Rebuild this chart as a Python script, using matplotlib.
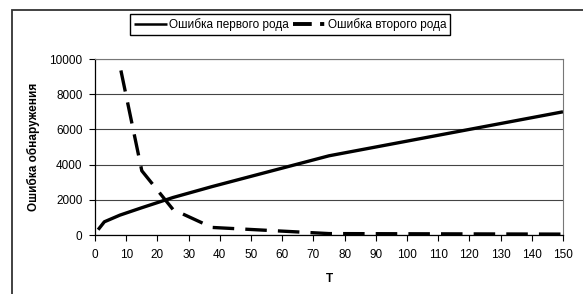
import matplotlib.pyplot as plt
from matplotlib.patches import Rectangle
from matplotlib.lines import Line2D

plt.rcParams['font.family'] = ['Liberation Sans', 'DejaVu Sans']
plt.rcParams['font.size'] = 8.5
plt.rcParams['lines.scale_dashes'] = False

# data
t_first = [1, 3, 8, 15, 25, 37.5, 75, 150]
err_first = [300, 750, 1130, 1550, 2130, 2750, 4500, 7000]
t_second = [8.3, 15, 25, 37.5, 75, 150]
err_second = [9350, 3650, 1450, 430, 80, 50]
xticks = list(range(0, 151, 10))
yticks = [0, 2000, 4000, 6000, 8000, 10000]
labels = ['Ошибка первого рода', 'Ошибка второго рода']

fig = plt.figure(figsize=(5.83, 2.94), dpi=100)
fig.patch.set_facecolor('white')

# outer chart border (runs off the right/bottom edge)
fig.patches.append(Rectangle((12 / 583, -0.1), 1.2, 1 - 10 / 294 + 0.1,
                             transform=fig.transFigure, fill=False,
                             edgecolor='#333333', lw=1.3, zorder=0))

ax = fig.add_axes([95 / 583, 1 - 235 / 294, 468 / 583, 176 / 294])

ax.plot(t_first, err_first, color='black', lw=2.4, solid_capstyle='butt')
ax.plot(t_second, err_second, color='black', lw=2.4, dashes=(15.5, 8),
        dash_capstyle='butt')

ax.set_xlim(0, 150)
ax.set_ylim(0, 10000)
ax.set_xticks(xticks)
ax.set_yticks(yticks)
ax.yaxis.grid(True, color='#444444', lw=0.8)
ax.set_axisbelow(True)
ax.tick_params(direction='out', length=4, width=0.8)
ax.tick_params(axis='x', pad=6)
ax.tick_params(axis='y', pad=5)

for s in ['top', 'right']:
    ax.spines[s].set_color('#777777')
    ax.spines[s].set_linewidth(0.8)
for s in ['left', 'bottom']:
    ax.spines[s].set_linewidth(0.9)

ax.set_xlabel('T', fontweight='bold', labelpad=9)
ax.set_ylabel('Ошибка обнаружения', fontweight='bold', labelpad=7)

# Excel-like legend samples
h1 = Line2D([], [], color='black', lw=1.8, solid_capstyle='butt')
h2 = Line2D([], [], color='black', lw=2.8, dashes=(13.5, 6, 3, 100),
            dash_capstyle='butt')
fig.legend([h1, h2], labels, loc='center',
           bbox_to_anchor=(290 / 583, 1 - 24.5 / 294), ncol=2,
           frameon=True, fancybox=False, edgecolor='black', framealpha=1,
           handlelength=2.8, handletextpad=0.15, columnspacing=0.4,
           borderpad=0.35, borderaxespad=0, fontsize=8.5)

fig.savefig('out.png', dpi=100)
